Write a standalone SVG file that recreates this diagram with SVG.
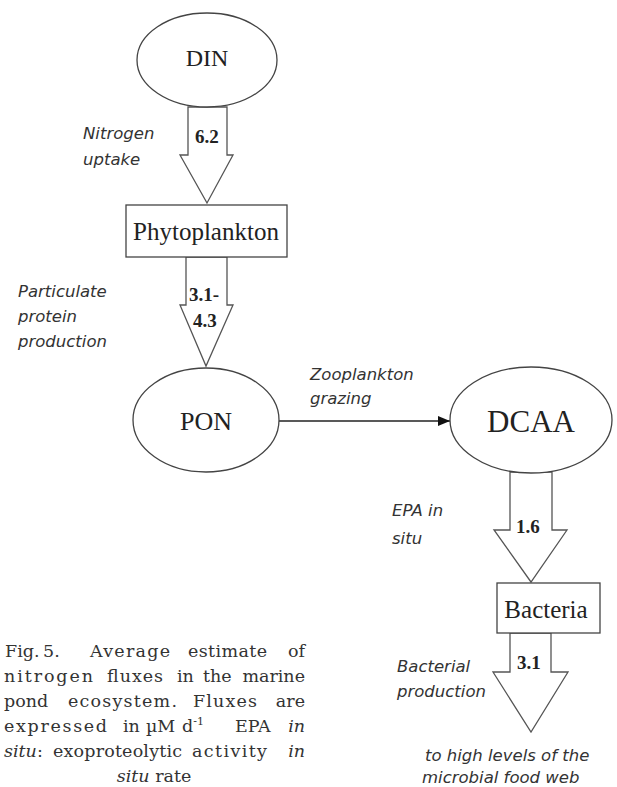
<svg xmlns="http://www.w3.org/2000/svg" width="617" height="787" viewBox="0 0 617 787">
<defs>
<style>
.node{fill:#fff;stroke:#444;stroke-width:1.3}
.flux{fill:#fff;stroke:#555;stroke-width:1.3;stroke-linejoin:miter}
.nl{font-family:"Liberation Serif",serif;fill:#222;text-anchor:middle}
.num{font-family:"Liberation Serif",serif;font-weight:bold;font-size:19px;fill:#222}
.lab{font-family:"DejaVu Sans",sans-serif;font-style:italic;font-size:16.5px;fill:#333}
.cap text{font-family:"DejaVu Serif",serif;font-size:17.5px;fill:#333}
.cap .e{text-anchor:end}
.capi{font-style:italic}
</style>
<marker id="ah" viewBox="0 0 12 10" refX="12" refY="5" markerWidth="12" markerHeight="10" markerUnits="userSpaceOnUse" orient="auto">
<path d="M0,0 L12,5 L0,10 Z" fill="#111"/>
</marker>
</defs>

<g id="connectors">
<polygon class="flux" points="188,107 227,107 227,155 233,155 207,203 180,155 188,155"/>
<polygon class="flux" points="186,257 227,257 227,305 233,305 206,366 180,305 186,305"/>
<polygon class="flux" points="510,472 552,472 552,530 567,530 531,582 494,530 510,530"/>
<polygon class="flux" points="510,633 551,633 551,672 568,672 531,732 493,672 510,672"/>
<line x1="279" y1="421" x2="450" y2="421" stroke="#222" stroke-width="1.3" marker-end="url(#ah)"/>
</g>

<g id="din">
<ellipse class="node" cx="207" cy="60" rx="70" ry="47"/>
<text class="nl" x="207" y="66" font-size="24">DIN</text>
</g>
<g id="phytoplankton">
<rect class="node" x="126" y="205" width="161" height="52"/>
<text class="nl" x="206" y="240" font-size="25">Phytoplankton</text>
</g>
<g id="pon">
<ellipse class="node" cx="206" cy="420" rx="73" ry="52"/>
<text class="nl" x="206" y="430" font-size="26">PON</text>
</g>
<g id="dcaa">
<ellipse class="node" cx="531" cy="420" rx="81" ry="53"/>
<text class="nl" x="531" y="432" font-size="31">DCAA</text>
</g>
<g id="bacteria">
<rect class="node" x="497" y="583" width="103" height="50"/>
<text class="nl" x="546" y="618" font-size="25">Bacteria</text>
</g>

<g id="labels">
<text class="num" x="195" y="143">6.2</text>
<text class="num" x="189" y="301">3.1-</text>
<text class="num" x="193" y="327">4.3</text>
<text class="num" x="516" y="533">1.6</text>
<text class="num" x="517" y="669">3.1</text>

<text class="lab" x="83" y="139">Nitrogen</text>
<text class="lab" x="83" y="165">uptake</text>
<text class="lab" x="18" y="297">Particulate</text>
<text class="lab" x="18" y="322">protein</text>
<text class="lab" x="18" y="347">production</text>
<text class="lab" x="310" y="380">Zooplankton</text>
<text class="lab" x="310" y="404">grazing</text>
<text class="lab" x="392" y="516">EPA in</text>
<text class="lab" x="392" y="544">situ</text>
<text class="lab" x="397" y="672">Bacterial</text>
<text class="lab" x="397" y="697">production</text>
<text class="lab" x="425" y="761">to high levels of the</text>
<text class="lab" x="422" y="783">microbial food web</text>
</g>

<g id="caption" class="cap">
<text x="5" y="657">Fig.</text>
<text x="43" y="657">5.</text>
<text x="90" y="657" textLength="80" lengthAdjust="spacing">Average</text>
<text x="188" y="657" textLength="79" lengthAdjust="spacing">estimate</text>
<text class="e" x="305" y="657">of</text>

<text x="4" y="682" textLength="89" lengthAdjust="spacing">nitrogen</text>
<text x="107" y="682" textLength="56" lengthAdjust="spacing">fluxes</text>
<text x="177" y="682">in</text>
<text x="203" y="682">the</text>
<text class="e" x="305" y="682">marine</text>

<text x="4" y="707">pond</text>
<text x="68" y="707" textLength="109" lengthAdjust="spacing">ecosystem.</text>
<text x="193" y="707" textLength="64" lengthAdjust="spacing">Fluxes</text>
<text class="e" x="305" y="707">are</text>

<text x="4" y="732" textLength="103" lengthAdjust="spacing">expressed</text>
<text x="123" y="732">in</text>
<text x="146" y="732">µM</text>
<text x="182" y="732">d<tspan dy="-7" font-size="11">-1</tspan></text>
<text x="235" y="732">EPA</text>
<text class="e capi" x="305" y="732">in</text>

<text x="4" y="757"><tspan class="capi">situ</tspan>:</text>
<text x="53" y="757" textLength="129" lengthAdjust="spacing">exoproteolytic</text>
<text x="192" y="757" textLength="75" lengthAdjust="spacing">activity</text>
<text class="e capi" x="305" y="757">in</text>

<text x="154" y="782" text-anchor="middle"><tspan class="capi">situ</tspan> rate</text>
</g>
</svg>
